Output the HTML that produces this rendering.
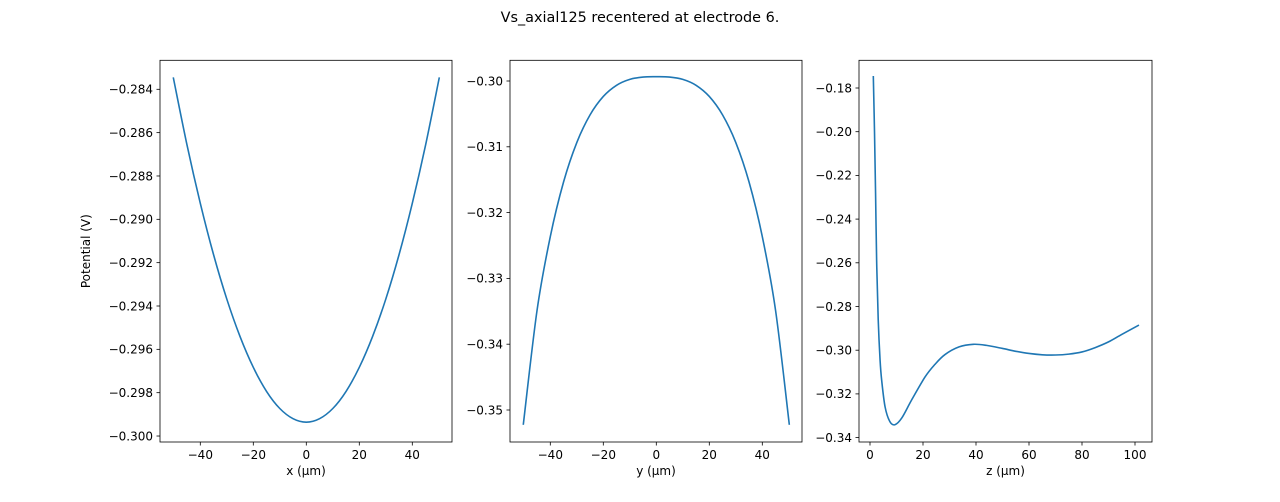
<!DOCTYPE html>
<html><head><meta charset="utf-8"><style>
body{margin:0;background:#fff;font-family:"Liberation Sans","DejaVu Sans",sans-serif}
svg text{font-family:"DejaVu Sans","Liberation Sans",sans-serif;font-size:12px;fill:#000}
</style></head><body>
<svg id="fig" width="1280" height="497" viewBox="0 0 1280 497">
<rect width="1280" height="497" fill="#fff"/>
<text x="640" y="22" text-anchor="middle" style="font-size:14.4px">Vs_axial125 recentered at electrode 6.</text>
</svg>
<script>
const xVals = [-50.2,-45,-40,-35,-30,-25,-20,-15,-10,-5,0,5,10,15,20,25,30,35,40,45,50.2];
const xPot = [-0.28345,-0.28658,-0.28926,-0.29163,-0.29368,-0.29541,-0.29683,-0.29794,-0.29873,-0.2992,-0.29936,-0.2992,-0.29873,-0.29794,-0.29683,-0.29541,-0.29368,-0.29163,-0.28926,-0.28658,-0.28345];
const yVals = [-50.2,-45,-40,-35,-30,-25,-20,-15,-10,-5,0,5,10,15,20,25,30,35,40,45,50.2];
const yPot = [-0.35225,-0.33485,-0.32365,-0.31535,-0.30935,-0.30515,-0.30235,-0.30065,-0.29975,-0.2994,-0.29935,-0.2994,-0.29975,-0.30065,-0.30235,-0.30515,-0.30935,-0.31535,-0.32365,-0.33485,-0.35225];
const zVals = [1.25,1.7,2.1,2.5,3.1,3.8,4.4,5.7,7.5,9.4,12,15.7,20.8,24.5,28.3,33.6,39,44,50,55,60,65,70,75,80,85,90,95,101.5];
const zPot = [-0.1745,-0.2,-0.228,-0.2587,-0.286,-0.3045,-0.3137,-0.326,-0.3327,-0.3341,-0.331,-0.3228,-0.3122,-0.3065,-0.3020,-0.2985,-0.2973,-0.2978,-0.2992,-0.3005,-0.3015,-0.3021,-0.3022,-0.3018,-0.3008,-0.2988,-0.2962,-0.2928,-0.2885];
const xTicks = [-40,-20,0,20,40];
const zTicks = [0,20,40,60,80,100];
const p1Ticks = [-0.284,-0.286,-0.288,-0.290,-0.292,-0.294,-0.296,-0.298,-0.300];
const p2Ticks = [-0.30,-0.31,-0.32,-0.33,-0.34,-0.35];
const p3Ticks = [-0.18,-0.20,-0.22,-0.24,-0.26,-0.28,-0.30,-0.32,-0.34];
const NS='http://www.w3.org/2000/svg';
const svg=document.getElementById('fig');
function mk(tag,attrs,parent){const e=document.createElementNS(NS,tag);for(const k in attrs)e.setAttribute(k,attrs[k]);(parent||svg).appendChild(e);return e;}
function fmt(v,d){return (v<0?'\u2212':'')+Math.abs(v).toFixed(d);}
function panel(name,L,R,T,B,xd,yd,xs,ys,xt,yt,yDec,xlabel,ylabel){
  const g=mk('g',{});
  
  
  const X=v=>L+(v-xd[0])/(xd[1]-xd[0])*(R-L);
  const Y=v=>T+(yd[1]-v)/(yd[1]-yd[0])*(B-T);
  xt.forEach(t=>{const x=X(t);
    const l=mk('line',{x1:x,x2:x,y1:B,y2:B+3.5,stroke:'#000','stroke-width':0.8},g);
    
    
    const tx=mk('text',{x:x,y:B+17,'text-anchor':'middle'},g);tx.textContent=fmt(t,0);
    
    });
  yt.forEach(t=>{const y=Y(t);
    const l=mk('line',{x1:L-3.5,x2:L,y1:y,y2:y,stroke:'#000','stroke-width':0.8},g);
    
    
    const tx=mk('text',{x:L-7,y:y+4.3,'text-anchor':'end'},g);tx.textContent=fmt(t,yDec);
    
    });
  const pts=xs.map((v,i)=>[X(v),Y(ys[i])]);
  let d='M'+pts[0][0]+','+pts[0][1];
  for(let i=0;i<pts.length-1;i++){const p0=pts[Math.max(0,i-1)],p1=pts[i],p2=pts[i+1],p3=pts[Math.min(pts.length-1,i+2)];
    d+=' C'+(p1[0]+(p2[0]-p0[0])/6)+','+(p1[1]+(p2[1]-p0[1])/6)+' '+(p2[0]-(p3[0]-p1[0])/6)+','+(p2[1]-(p3[1]-p1[1])/6)+' '+p2[0]+','+p2[1];}
  const c=mk('path',{d:d,fill:'none',stroke:'#1f77b4','stroke-width':1.6,'stroke-linejoin':'round'},g);
  
  
  const fr=mk('rect',{x:L,y:T,width:R-L,height:B-T,fill:'none',stroke:'#000','stroke-width':0.8},g);
  
  
  const xl=mk('text',{x:(L+R)/2,y:B+33,'text-anchor':'middle'},g);xl.textContent=xlabel;
  
  
  if(ylabel){const yl=mk('text',{x:0,y:0,'text-anchor':'middle',transform:'translate(90,'+((T+B)/2)+') rotate(-90)'},g);yl.textContent=ylabel;
    
    }
}
panel('x-panel',160,452,60.3,442,[(160-306.3)/2.65,(452-306.3)/2.65],[-0.284-(442-89.3)/21670,-0.284+(89.3-60.3)/21670],xVals,xPot,xTicks,p1Ticks,3,'x (\u03bcm)','Potential (V)');
panel('y-panel',510,802,60.3,442,[(510-656.3)/2.65,(802-656.3)/2.65],[-0.30-(442-81)/6580,-0.30+(81-60.3)/6580],yVals,yPot,xTicks,p2Ticks,2,'y (\u03bcm)',null);
panel('z-panel',859,1152,60.3,442,[(859-870)/2.65,(1152-870)/2.65],[-0.18-(442-88)/2185,-0.18+(88-60.3)/2185],zVals,zPot,zTicks,p3Ticks,2,'z (\u03bcm)',null);
</script>
</body></html>
